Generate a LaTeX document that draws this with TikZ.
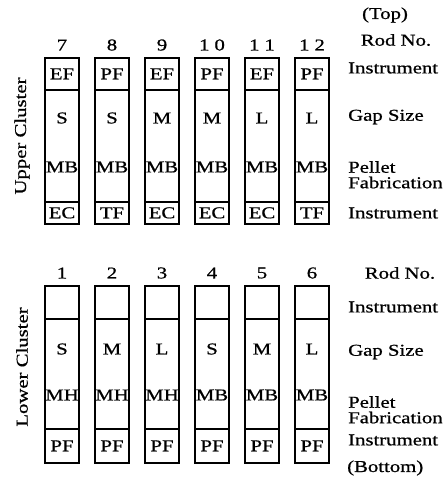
\documentclass[tikz,border=0pt]{standalone}
\usepackage{fontspec}
\setmainfont[FakeStretch=1.25,FakeBold=0.8]{Liberation Serif}
\newcommand{\labfont}{\fontsize{16.6}{15.5}\selectfont}
\begin{document}
\begin{tikzpicture}[x=1pt,y=-1pt,
  cell/.style={draw,line width=1.7pt,minimum width=34pt,inner sep=0pt,anchor=north},
  txt/.style={inner sep=0pt,font=\labfont},
  rowlab/.style={txt,anchor=west,align=left},
  cluster/.style={txt,rotate=90},
]
\useasboundingbox (0,0) rectangle (446,487);

% ---------------- upper cluster (rods 7-12) ----------------
\foreach \i/\num/\lbl/\ins/\gap/\pel/\bot in {
    0/7/7/EF/S/MB/EC,
    1/8/8/PF/S/MB/TF,
    2/9/9/EF/M/MB/EC,
    3/10/{1\hskip5pt0}/PF/M/MB/EC,
    4/11/{1\hskip5pt1}/EF/L/MB/EC,
    5/12/{1\hskip5pt2}/PF/L/MB/TF} {
  \pgfmathsetmacro{\cx}{62+50*\i}
  \node[txt] (n\num) at (\cx,45) {\lbl};
  \node[cell,minimum height=32pt] (t\num) at (\cx,57) {};
  \node[cell,minimum height=112pt] (m\num) at (\cx,89) {};
  \node[cell,minimum height=22pt] (b\num) at (\cx,201) {};
  \node[txt] (ti\num) at (t\num.center) {\ins};
  \node[txt] (g\num) at (\cx,118) {\gap};
  \node[txt] (p\num) at (\cx,167) {\pel};
  \node[txt] (bi\num) at (b\num.center) {\bot};
}

% ---------------- lower cluster (rods 1-6) ----------------
\foreach \i/\num/\gap/\pel in {
    0/1/S/MH, 1/2/M/MH, 2/3/L/MH, 3/4/S/MB, 4/5/M/MB, 5/6/L/MB} {
  \pgfmathsetmacro{\cx}{62+50*\i}
  \node[txt] (n\num) at (\cx,273) {\num};
  \node[cell,minimum height=33pt] (t\num) at (\cx,285) {};
  \node[cell,minimum height=110pt] (m\num) at (\cx,318) {};
  \node[cell,minimum height=34pt] (b\num) at (\cx,428) {};
  \node[txt] (g\num) at (\cx,349) {\gap};
  \node[txt] (p\num) at (\cx,395) {\pel};
  \node[txt] (bi\num) at (b\num.center) {PF};
}

% ---------------- cluster titles ----------------
\node[cluster] (upper) at (22,136) {Upper Cluster};
\node[cluster] (lower) at (22,367) {Lower Cluster};

% ---------------- row legends ----------------
\node[txt] (top) at (385,15) {(Top)};
\node[txt] (rodU) at (396,40) {Rod No.};
\node[rowlab] (insU1) at (348,68) {Instrument};
\node[rowlab] (gapU) at (348,117) {Gap Size};
\node[rowlab,anchor=north west] (pelU) at (348,161) {Pellet\\Fabrication};
\node[rowlab] (insU2) at (348,213) {Instrument};

\node[txt] (rodL) at (400,273) {Rod No.};
\node[rowlab] (insL1) at (348,307) {Instrument};
\node[rowlab] (gapL) at (348,352) {Gap Size};
\node[rowlab,anchor=north west] (pelL) at (348,396) {Pellet\\Fabrication};
\node[rowlab] (insL2) at (348,440) {Instrument};
\node[rowlab] (bottom) at (347,468) {(Bottom)};
\end{tikzpicture}
\end{document}
